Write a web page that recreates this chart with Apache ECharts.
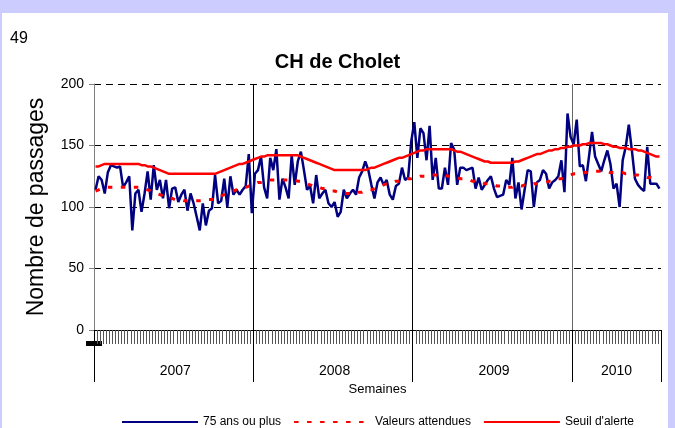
<!DOCTYPE html>
<html>
<head>
<meta charset="utf-8">
<script src="https://cdn.jsdelivr.net/npm/echarts@6/dist/echarts.min.js"></script>
<style>
  body { margin: 0; background: #ccccff; }
  #panel { position: absolute; left: 2px; top: 13px; width: 666px; height: 415px; background: #fff; }
  #main { position: absolute; left: 0; top: 0; width: 675px; height: 428px; }
</style>
</head>
<body>
<div id="panel"></div>
<div id="main"></div>
<script>
// semaines par année
const years = ['2007', '2008', '2009', '2010'];
const weeksPerYear = [52, 52, 52, 29];

// 75 ans ou plus
const passages2007 = [114,125,122,111,128,134,133,132,133,116,120,125,81,111,114,96,111,129,106,134,114,122,107,122,99,115,116,104,110,114,97,111,103,92,81,103,85,97,99,126,103,105,123,100,125,110,114,110,114,117,143,95];
const passages2008 = [127,130,141,116,107,140,130,147,106,123,116,107,142,118,137,145,130,114,117,103,126,107,111,114,103,100,104,92,96,114,107,111,114,110,124,129,137,130,118,107,120,124,118,122,110,106,117,119,132,122,124,153];
const passages2009 = [169,140,164,160,138,166,122,140,115,115,132,118,152,147,118,132,132,130,131,132,115,124,114,118,122,125,115,108,109,110,122,118,140,107,120,98,114,130,129,100,120,122,130,127,115,120,122,125,138,112,176,157];
const passages2010 = [151,171,133,134,121,141,161,141,135,129,138,146,135,115,119,100,138,149,167,146,123,118,115,113,149,119,119,119,115];

// Valeurs attendues
const attendu2007 = [113,114,115,115,116,116,116,116,116,116,116,116,116,116,116,115,115,114,113,112,111,110,109,108,107,107,106,106,106,105,105,105,105,105,105,105,105,106,106,106,108,109,110,111,112,113,114,114,115,116,117,118];
const attendu2008 = [119,120,120,121,121,122,122,122,122,122,122,122,122,122,121,121,120,119,118,117,117,116,115,115,114,113,113,112,112,111,111,111,111,111,112,112,113,114,114,115,116,117,118,119,119,120,121,121,122,122,123,123];
const attendu2009 = [124,124,125,125,125,126,126,126,126,126,126,125,125,124,124,123,123,122,122,121,121,120,120,119,119,118,118,117,117,116,116,116,116,117,117,117,118,118,118,119,119,119,120,120,121,121,122,123,123,124,125,126];
const attendu2010 = [127,127,128,128,128,129,129,129,129,129,129,129,128,128,128,128,128,127,127,127,126,126,125,125,124,124,123,123,122];

// Seuil d'alerte
const seuil2007 = [133,133,134,135,135,135,135,135,135,135,135,135,135,135,135,134,134,133,133,132,131,130,129,128,127,127,127,127,127,127,127,127,127,127,127,127,127,127,127,127,128,129,130,131,132,133,134,135,135,136,137,138];
const seuil2008 = [139,140,141,141,142,142,142,142,142,142,142,142,142,142,142,141,140,139,138,137,136,135,134,133,132,131,130,130,130,130,130,130,130,130,130,130,130,131,132,132,133,134,135,136,137,138,139,140,140,141,142,143];
const seuil2009 = [144,145,146,146,147,147,147,147,147,147,147,147,147,146,145,145,144,143,142,141,140,139,138,137,137,136,136,136,136,136,136,136,136,137,137,138,139,140,141,142,143,143,144,145,146,146,147,147,148,148,149,149];
const seuil2010 = [150,150,150,151,151,152,152,152,152,152,151,151,150,149,149,148,148,148,147,147,147,146,146,145,144,143,142,141,141];

const yTicks = [0, 50, 100, 150, 200];

const passages = passages2007.concat(passages2008, passages2009, passages2010);
const attendu = attendu2007.concat(attendu2008, attendu2009, attendu2010);
const seuil = seuil2007.concat(seuil2008, seuil2009, seuil2010);

// une catégorie par semaine, l'année est écrite au milieu de chaque bloc
const weeks = [];
const yearMid = {};
let start = 0;
years.forEach(function (y, k) {
  for (let w = 0; w < weeksPerYear[k]; w++) weeks.push(y + '-S' + (w + 1));
  yearMid[start + Math.floor(weeksPerYear[k] / 2)] = y;
  start += weeksPerYear[k];
});
const totalWeeks = weeks.length;

const font = '"Liberation Sans", Arial, sans-serif';
const chart = echarts.init(document.getElementById('main'));

chart.setOption({
  backgroundColor: 'transparent',
  animation: false,
  title: {
    text: 'CH de Cholet',
    left: 'center',
    top: 47,
    textStyle: { fontFamily: font, fontSize: 20, fontWeight: 'bold', color: '#000' }
  },
  graphic: [
    { type: 'text', left: 10, top: 31, style: { text: '49', font: '16px ' + font, fill: '#000' } },
    { type: 'rect', shape: { x: 86, y: 341, width: 16, height: 5 }, style: { fill: '#000' } }
  ],
  legend: {
    top: 411,
    left: 116,
    itemWidth: 76,
    itemHeight: 12,
    itemGap: 12,
    itemStyle: { color: 'rgba(0,0,0,0)', borderWidth: 0 },
    textStyle: { fontFamily: font, fontSize: 12, color: '#000' },
    data: ['75 ans ou plus', 'Valeurs attendues', "Seuil d'alerte"]
  },
  grid: { left: 94, right: 14, top: 84, bottom: 98, containLabel: false },
  xAxis: [
    {
      type: 'category',
      data: weeks,
      boundaryGap: true,
      name: 'Semaines',
      nameLocation: 'middle',
      nameGap: 52,
      nameTextStyle: { fontFamily: font, fontSize: 13, color: '#000' },
      axisLine: { lineStyle: { color: '#000', width: 1 } },
      axisTick: { show: true, interval: 0, length: 14, lineStyle: { color: '#555' } },
      axisLabel: {
        interval: function (index) { return yearMid[index] !== undefined; },
        formatter: function (v, index) { return yearMid[index] || ''; },
        margin: 34,
        fontFamily: font,
        fontSize: 14,
        color: '#000'
      },
      splitLine: { show: false }
    },
    {
      type: 'value',
      min: 0,
      max: totalWeeks,
      interval: 52,
      position: 'bottom',
      axisLine: { show: false },
      axisLabel: { show: false },
      axisTick: { show: true, length: 52, inside: false, lineStyle: { color: '#000' } },
      splitLine: {
        show: true,
        lineStyle: { color: ['#808080', '#000', '#000', '#666', 'rgba(0,0,0,0)'], width: 1 }
      }
    }
  ],
  yAxis: {
    type: 'value',
    min: yTicks[0],
    max: yTicks[yTicks.length - 1],
    interval: 50,
    name: 'Nombre de passages',
    nameLocation: 'middle',
    nameRotate: 90,
    nameGap: 46,
    nameTextStyle: { fontFamily: font, fontSize: 23, color: '#000' },
    axisLine: { show: true, lineStyle: { color: '#808080', width: 1 } },
    axisTick: { show: true, length: 5, lineStyle: { color: '#808080' } },
    axisLabel: { margin: 10, fontFamily: font, fontSize: 14, color: '#000' },
    splitLine: { show: true, lineStyle: { color: '#000', type: [7, 5], width: 1 } }
  },
  series: [
    {
      name: '75 ans ou plus',
      type: 'line',
      data: passages,
      symbol: 'none',
      z: 3,
      lineStyle: { color: '#000080', width: 2.5 },
      itemStyle: { color: '#000080' }
    },
    {
      name: 'Valeurs attendues',
      type: 'line',
      data: attendu,
      symbol: 'none',
      z: 4,
      lineStyle: { color: '#ff0000', width: 3, type: [4.5, 8.5] },
      itemStyle: { color: '#ff0000' }
    },
    {
      name: "Seuil d'alerte",
      type: 'line',
      data: seuil,
      symbol: 'none',
      z: 4,
      lineStyle: { color: '#ff0000', width: 2.5 },
      itemStyle: { color: '#ff0000' }
    }
  ]
});
</script>
</body>
</html>
